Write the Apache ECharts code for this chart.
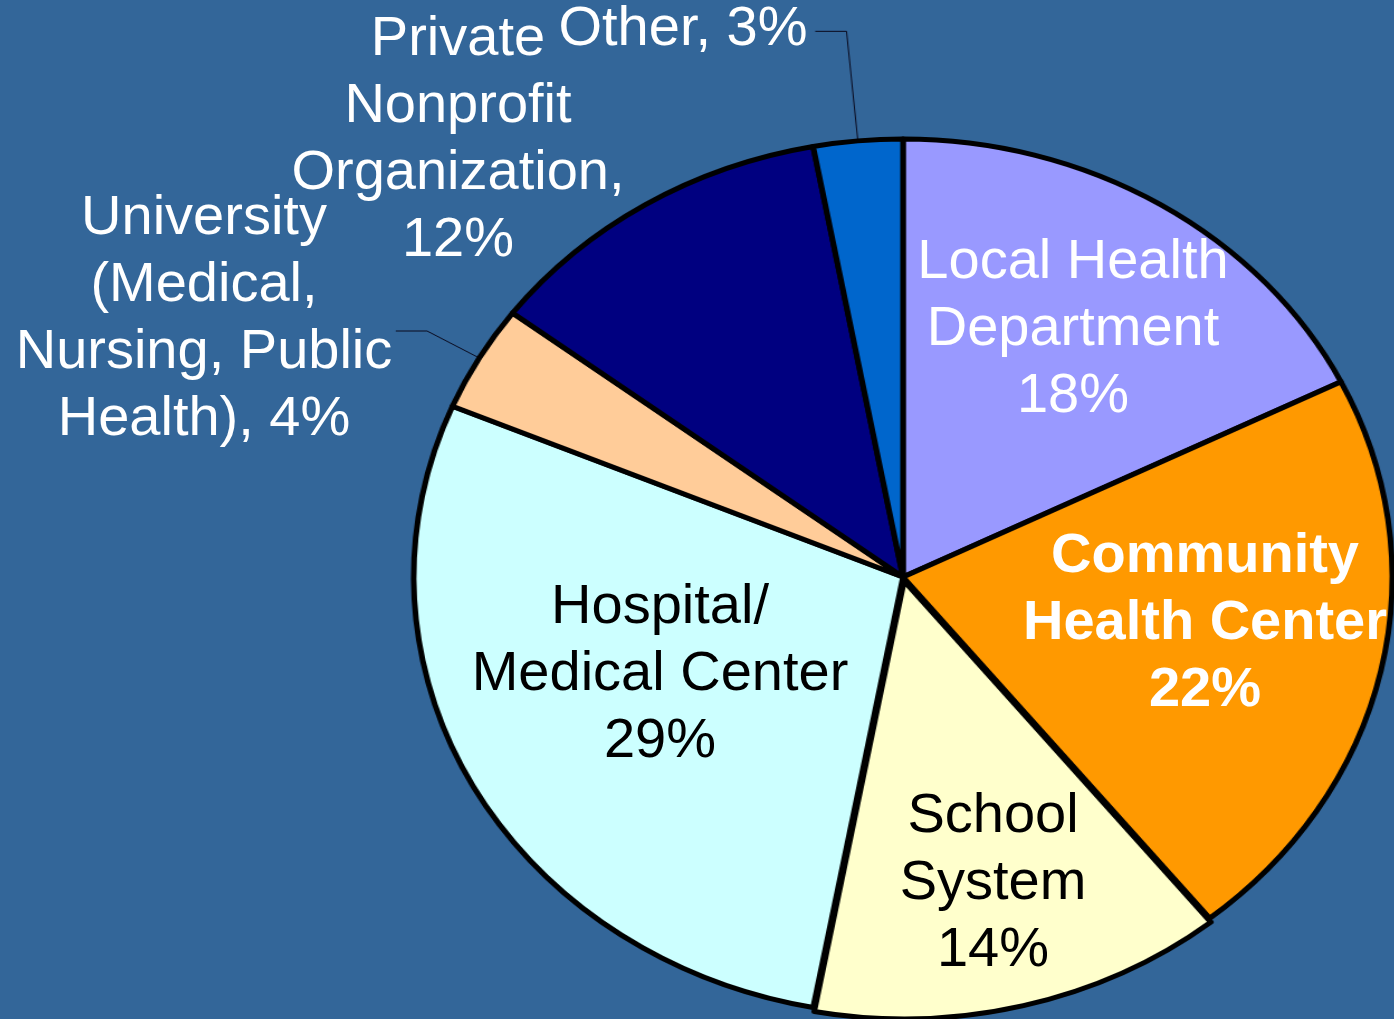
<!DOCTYPE html>
<html>
<head>
<meta charset="utf-8">
<script src="https://cdn.jsdelivr.net/npm/echarts@6/dist/echarts.min.js"></script>
<style>
html, body {
  margin: 0;
  padding: 0;
  background: #336699;
}
.gragh-pannel {
  position: absolute;
  left: 0;
  top: 0;
  width: 1394px;
  height: 1019px;
}
/* the original pie is an ellipse: stretch the slice layer only */
#pie-show {
  transform: scaleX(1.117);
  transform-origin: 903px 577px;
}
</style>
</head>
<body>
<div class="gragh-pannel" id="pie-show"></div>
<div class="gragh-pannel" id="label-show"></div>
<script>
// 数据
const aName = [
  'Local Health\nDepartment',
  'Community\nHealth Center',
  'School\nSystem',
  'Hospital/\nMedical Center',
  'University\n(Medical,\nNursing, Public\nHealth)',
  'Private\nNonprofit\nOrganization',
  'Other'
]
const aValue = [18, 22, 14, 29, 4, 12, 3]

// 样式
const aColor = ['#9999ff', '#ff9900', '#ffffcc', '#ccffff', '#ffcc99', '#000080', '#0066cc']
const aTextColor = ['#fff', '#fff', '#000', '#000', '#fff', '#fff', '#fff']
const aWeight = ['normal', 'bold', 'normal', 'normal', 'normal', 'normal', 'normal']
const aJoin = ['\n', '\n', '\n', '\n', ', ', ',\n', ', ']
const aLineLen = [0, 0, 0, 0, 54, 0, 110]
const aSpot = [[1073, 330], [1205, 624], [993, 884], [660, 675], [204, 319], [458, 140], [683, 30]]

const center = [903, 577]
const radius = 438

// 饼图（只画扇区和引导线）
const oPie = echarts.init(document.getElementById('pie-show'))
oPie.setOption({
  animation: false,
  series: [
    {
      type: 'pie',
      center: center,
      radius: radius,
      startAngle: 90,
      clockwise: true,
      avoidLabelOverlap: false,
      selectedMode: true,
      selectedOffset: 4,
      emphasis: { disabled: true },
      itemStyle: { borderColor: '#000', borderWidth: 5 },
      label: { show: false, position: 'outside', formatter: ' ', fontSize: 8, distanceToLabelLine: 0 },
      labelLine: { show: false, lineStyle: { color: '#0a0a1e', width: 1 } },
      data: aValue.map((v, i) => ({
        value: v,
        name: aName[i],
        selected: i === 2,
        itemStyle: { color: aColor[i] },
        label: { show: aLineLen[i] > 0 },
        labelLine: { show: aLineLen[i] > 0, length: aLineLen[i], length2: 28 }
      }))
    }
  ]
})

// 文字层
const oLabel = echarts.init(document.getElementById('label-show'))
oLabel.setOption({
  animation: false,
  series: [
    {
      type: 'pie',
      center: center,
      radius: radius,
      startAngle: 90,
      silent: true,
      itemStyle: { color: 'transparent', borderWidth: 0 },
      label: {
        show: true,
        position: 'inside',
        fontFamily: '"Liberation Sans", Arial, sans-serif',
        fontSize: 56,
        lineHeight: 67,
        align: 'center',
        formatter: p => aName[p.dataIndex] + aJoin[p.dataIndex] + p.value + '%'
      },
      labelLine: { show: false },
      labelLayout: p => ({
        x: aSpot[p.dataIndex][0],
        y: aSpot[p.dataIndex][1],
        align: 'center',
        verticalAlign: 'middle'
      }),
      data: aValue.map((v, i) => ({
        value: v,
        name: aName[i],
        label: { color: aTextColor[i], fontWeight: aWeight[i] }
      }))
    }
  ]
})
</script>
</body>
</html>
